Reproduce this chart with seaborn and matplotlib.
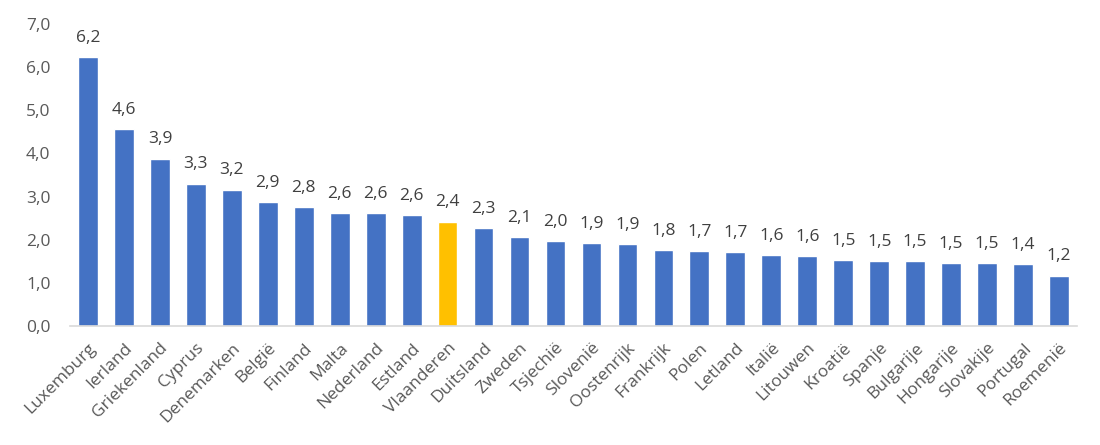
import matplotlib
matplotlib.use("Agg")
import matplotlib.pyplot as plt
import seaborn as sns
import pandas as pd

countries = ["Luxemburg", "Ierland", "Griekenland", "Cyprus", "Denemarken", "België",
             "Finland", "Malta", "Nederland", "Estland", "Vlaanderen", "Duitsland",
             "Zweden", "Tsjechië", "Slovenië", "Oostenrijk", "Frankrijk", "Polen",
             "Letland", "Italië", "Litouwen", "Kroatië", "Spanje", "Bulgarije",
             "Hongarije", "Slovakije", "Portugal", "Roemenië"]
values = [6.23, 4.56, 3.88, 3.30, 3.16, 2.87, 2.75, 2.62, 2.61, 2.57, 2.42, 2.26,
          2.06, 1.96, 1.93, 1.89, 1.76, 1.74, 1.72, 1.64, 1.63, 1.53, 1.51, 1.50,
          1.46, 1.46, 1.44, 1.17]
highlight = "Vlaanderen"
yticks = [0, 1, 2, 3, 4, 5, 6, 7]

BLUE = "#4472C4"
GOLD = "#FFC000"
TXT = "#595959"

sns.set_theme(style="white")
plt.rcParams["font.family"] = ["Open Sans", "DejaVu Sans"]

df = pd.DataFrame({"land": countries, "waarde": values})
palette = {c: (GOLD if c == highlight else BLUE) for c in countries}

fig = plt.figure(figsize=(11, 4.45), dpi=100)
ax = fig.add_axes([0.0636, 0.2674, 0.9155, 0.679])
sns.barplot(data=df, x="land", y="waarde", hue="land", palette=palette,
            width=0.55, legend=False, ax=ax, saturation=1)

ax.set_ylim(0, 7)
ax.set_xlim(-0.5, len(countries) - 0.5)
ax.set_yticks(yticks)
ax.set_yticklabels([f"{t:.1f}".replace(".", ",") for t in yticks], color=TXT, fontsize=12.5)
ax.set_xticks(range(len(countries)))
ax.set_xticklabels(countries, rotation=45, ha="right", rotation_mode="anchor",
                   color=TXT, fontsize=12.5)
ax.tick_params(axis="y", length=0, pad=14)
ax.tick_params(axis="x", length=0, pad=10)
ax.set_xlabel("")
ax.set_ylabel("")
for s in ["top", "right", "left"]:
    ax.spines[s].set_visible(False)
ax.spines["bottom"].set_color("#D9D9D9")
ax.spines["bottom"].set_linewidth(1.2)

for cont in ax.containers:
    ax.bar_label(cont, labels=[f"{v:.1f}".replace(".", ",") for v in cont.datavalues],
                 padding=8, color="#404040", fontsize=12.5)

fig.savefig("out.png", dpi=100)
